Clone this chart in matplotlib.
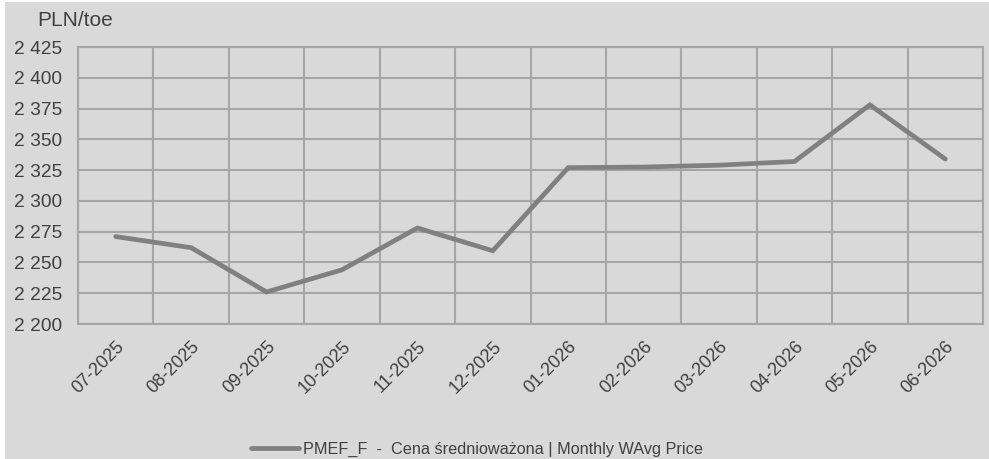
import matplotlib.pyplot as plt
from matplotlib.patches import Rectangle
from matplotlib.ticker import FuncFormatter

# monthly weighted average price, PLN/toe
months = ['07-2025', '08-2025', '09-2025', '10-2025', '11-2025', '12-2025',
          '01-2026', '02-2026', '03-2026', '04-2026', '05-2026', '06-2026']
price = [2271, 2262, 2226, 2244, 2278, 2259.5, 2327, 2327.5, 2329, 2332, 2378, 2334]
y_ticks = [2200, 2225, 2250, 2275, 2300, 2325, 2350, 2375, 2400, 2425]

plt.rcParams['font.family'] = ['Liberation Sans', 'DejaVu Sans']

bg = '#d9d9d9'
grid = '#a6a6a6'
txt = '#404040'

fig = plt.figure(figsize=(9.89, 4.59), dpi=100)
fig.patch.set_facecolor('white')
fig.patches.append(Rectangle((5 / 989, 0), 1, 1 - 2 / 459, transform=fig.transFigure,
                             facecolor=bg, edgecolor='none', zorder=-10))

ax = fig.add_axes([78 / 989, 1 - 324 / 459, 905 / 989, 277 / 459])
ax.set_facecolor(bg)

x = list(range(len(months)))
ax.plot(x, price, color='#808080', lw=3.4, solid_capstyle='round',
        solid_joinstyle='miter', label='PMEF_F  -  Cena średnioważona | Monthly WAvg Price', zorder=3)

ax.set_xlim(-0.5, len(months) - 0.5)
ax.set_ylim(y_ticks[0], y_ticks[-1])
ax.set_yticks(y_ticks)
ax.yaxis.set_major_formatter(FuncFormatter(lambda v, p: f'{int(v):,}'.replace(',', ' ')))

# vertical grid lines between categories
ax.set_xticks([i - 0.5 for i in range(len(months) + 1)], minor=True)
ax.set_xticks(x)
ax.set_xticklabels(months, rotation=45, ha='right', rotation_mode='anchor')
ax.grid(True, which='major', axis='y', color=grid, lw=1.5)
ax.grid(True, which='minor', axis='x', color=grid, lw=1.5)
ax.tick_params(axis='both', which='both', length=0, colors=txt)
ax.tick_params(axis='x', labelsize=13, pad=10)
ax.tick_params(axis='y', labelsize=13.8, pad=11.5)
for s in ax.spines.values():
    s.set_color(grid)
    s.set_linewidth(1.5)

fig.text(37 / 989, 1 - 21 / 459, 'PLN/toe', fontsize=15, color=txt, va='center', ha='left')

fig.legend(loc='center', bbox_to_anchor=(477 / 989, 1 - 449 / 459), frameon=False,
           fontsize=11.7, labelcolor=txt, handlelength=2.95, handletextpad=0.2)

fig.savefig('out.png', dpi=100, facecolor=fig.get_facecolor())
